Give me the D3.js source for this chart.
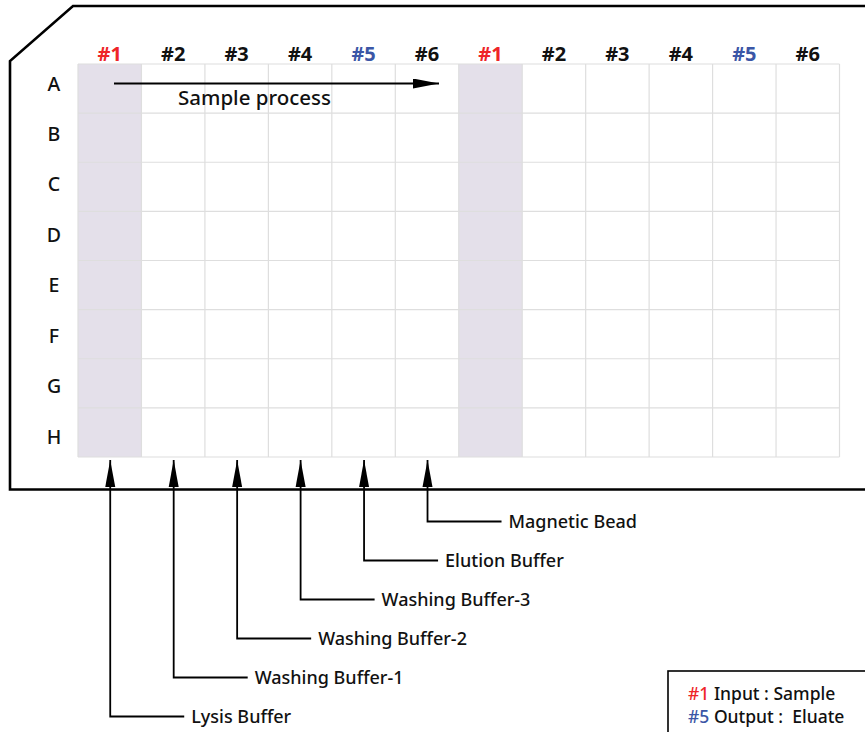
<!DOCTYPE html>
<html>
<head>
<meta charset="utf-8">
<script src="https://cdn.jsdelivr.net/npm/d3@7"></script>
<style>
  body { margin: 0; background: #fff; }
  svg { display: block; font-family: "Noto Sans", "Noto Sans CJK KR", sans-serif; }
</style>
</head>
<body>
<div id="chart"></div>
<script>
// Plate layout data
const rows = ["A", "B", "C", "D", "E", "F", "G", "H"];
const wells = ["#1", "#2", "#3", "#4", "#5", "#6", "#1", "#2", "#3", "#4", "#5", "#6"];
const inputWell = "#1";
const outputWell = "#5";
const reagents = ["Magnetic Bead", "Elution Buffer", "Washing Buffer-3", "Washing Buffer-2", "Washing Buffer-1", "Lysis Buffer"];
const reagentWell = [5, 4, 3, 2, 1, 0]; // column index each reagent points at
const legendLines = [
  { key: "#1", text: " Input : Sample" },
  { key: "#5", text: " Output :\u00a0 Eluate" }
];
const processLabel = "Sample process";

const W = 865, H = 732;
const red = "#ee2528", blue = "#3b56a6", shade = "#e4e0ea", gridCol = "#dedede";

const svg = d3.select("#chart")
  .append("svg")
  .attr("width", W)
  .attr("height", H);

const defs = svg.append("defs");
defs.append("marker")
  .attr("id", "head")
  .attr("viewBox", "0 0 26 10")
  .attr("refX", 26).attr("refY", 5)
  .attr("markerWidth", 26).attr("markerHeight", 10)
  .attr("markerUnits", "userSpaceOnUse")
  .attr("orient", "auto")
  .append("path")
  .attr("d", "M0,0 L26,5 L0,10 Z")
  .attr("fill", "#000");

// Scales
const x = d3.scaleBand()
  .domain(d3.range(wells.length))
  .range([78, 839.5]);

const y = d3.scaleBand()
  .domain(rows)
  .range([64, 457]);

const rowLabelY = d3.scalePoint()
  .domain(rows)
  .range([83.5, 436.5]);

const labelY = d3.scalePoint()
  .domain(reagents)
  .range([521.5, 716.5]);

const wellColor = w => w === inputWell ? red : (w === outputWell ? blue : "#111");

// Plate outline
svg.append("path")
  .attr("d", d3.line()([[W + 2, 6], [73, 6], [10, 61], [10, 489.5], [W + 2, 489.5]]))
  .attr("fill", "none")
  .attr("stroke", "#000")
  .attr("stroke-width", 2.6);

// Shaded input columns
svg.append("g")
  .selectAll("rect")
  .data(wells.map((w, i) => ({ w, i })).filter(d => d.w === inputWell))
  .enter().append("rect")
  .attr("x", d => x(d.i))
  .attr("y", y.range()[0])
  .attr("width", x.bandwidth())
  .attr("height", y.range()[1] - y.range()[0])
  .attr("fill", shade);

// Grid
const grid = svg.append("g")
  .attr("stroke", gridCol)
  .attr("stroke-width", 1.2);

grid.selectAll(".v")
  .data(d3.range(wells.length + 1))
  .enter().append("line")
  .attr("x1", i => i < wells.length ? x(i) : x.range()[1])
  .attr("x2", i => i < wells.length ? x(i) : x.range()[1])
  .attr("y1", y.range()[0])
  .attr("y2", y.range()[1]);

grid.selectAll(".h")
  .data(d3.range(rows.length + 1))
  .enter().append("line")
  .attr("x1", x.range()[0])
  .attr("x2", x.range()[1])
  .attr("y1", i => i < rows.length ? y(rows[i]) : y.range()[1])
  .attr("y2", i => i < rows.length ? y(rows[i]) : y.range()[1]);

// Column headers
svg.append("g")
  .selectAll("text")
  .data(wells)
  .enter().append("text")
  .attr("x", (d, i) => x(i) + x.bandwidth() / 2)
  .attr("y", 61)
  .attr("text-anchor", "middle")
  .attr("font-size", 20)
  .attr("font-weight", 700)
  .attr("fill", d => wellColor(d))
  .text(d => d);

// Row labels
svg.append("g")
  .selectAll("text")
  .data(rows)
  .enter().append("text")
  .attr("x", 54)
  .attr("y", d => rowLabelY(d) + 7)
  .attr("text-anchor", "middle")
  .attr("font-size", 19.5)
  .attr("font-weight", 500)
  .attr("fill", "#111")
  .text(d => d);

// Sample process arrow
svg.append("line")
  .attr("x1", 114)
  .attr("x2", 439)
  .attr("y1", 83.5)
  .attr("y2", 83.5)
  .attr("stroke", "#000")
  .attr("stroke-width", 1.8)
  .attr("marker-end", "url(#head)");

svg.append("text")
  .attr("x", 178)
  .attr("y", 105)
  .attr("font-size", 20.5)
  .attr("font-weight", 500)
  .attr("fill", "#111")
  .text(processLabel);

// Reagent callouts
const callouts = svg.append("g");
reagents.forEach((r, k) => {
  const cx = x(reagentWell[k]) + x.bandwidth() / 2 + 0.5;
  const ly = labelY(r);
  callouts.append("path")
    .attr("d", d3.line()([[cx, 460], [cx, ly], [cx + 74, ly]]))
    .attr("fill", "none")
    .attr("stroke", "#000")
    .attr("stroke-width", 1.8);
  callouts.append("path")
    .attr("d", d3.line()([[cx, 460], [cx + 5, 487], [cx - 5, 487]]) + "Z")
    .attr("fill", "#000");
  callouts.append("text")
    .attr("x", cx + 81)
    .attr("y", ly + 6.5)
    .attr("font-size", 18)
    .attr("font-weight", 500)
    .attr("fill", "#111")
    .text(r);
});

// Legend
svg.append("rect")
  .attr("x", 668)
  .attr("y", 671)
  .attr("width", W)
  .attr("height", 100)
  .attr("fill", "#fff")
  .attr("stroke", "#000")
  .attr("stroke-width", 1.6);

const legend = svg.append("g")
  .selectAll("text")
  .data(legendLines)
  .enter().append("text")
  .attr("x", 688)
  .attr("y", (d, i) => 700 + i * 22.5)
  .attr("font-size", 17.5)
  .attr("font-weight", 500)
  .attr("fill", "#111");

legend.append("tspan")
  .attr("fill", d => wellColor(d.key))
  .text(d => d.key);
legend.append("tspan")
  .text(d => d.text);
</script>
</body>
</html>
